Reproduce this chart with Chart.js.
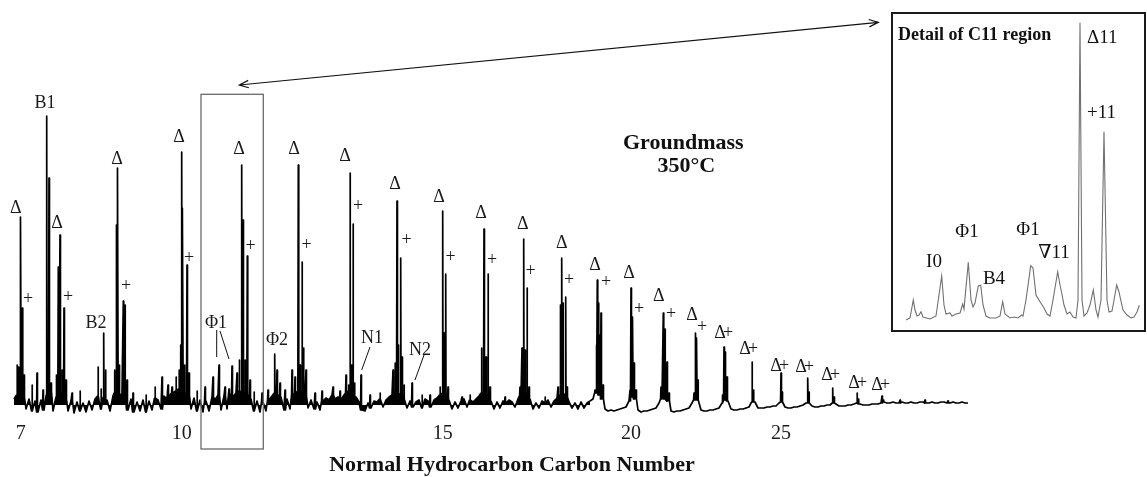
<!DOCTYPE html>
<html>
<head>
<meta charset="utf-8">
<style>
  html, body { margin: 0; padding: 0; background: #fff; }
  #wrap { position: relative; width: 1147px; height: 477px; overflow: hidden; }
  #main { position: absolute; left: 0; top: 0; }
  #insetBox { position: absolute; left: 891px; top: 12px; width: 255px; height: 320px;
              box-sizing: border-box; border: 2px solid #1a1a1a; background: #fff; }
  #inset { display: block; }
</style>
<script src="https://cdn.jsdelivr.net/npm/chart.js@4.4.0/dist/chart.umd.min.js"></script>
</head>
<body>
<div id="wrap">
  <canvas id="main" width="1147" height="477"></canvas>
  <div id="insetBox"><canvas id="inset" width="251" height="316"></canvas></div>
</div>
<script>
const SERIF = '"Liberation Serif", "Times New Roman", "DejaVu Serif", serif';

// carbon number ticks sit on the n-alkene peaks
const tickScans = [20.7, 181.7, 442.7, 631, 781];
const tickLabels = ['7', '10', '15', '20', '25'];

// baseline trace, one reading every 3 scans starting at scan 14
const noiseStart = 14;
const noiseStep = 3;
const noiseLevels = [
  6, 10, 12, 8, -4, 6, -6, 4, -7, 5, -5, 10, 14, -6, 8, 12, 10, 6, -6, 4, -8, 3, -6, 2, -7, 4, -5, 6, 9, -4, 8,
  5, -6, 9, 12, 10, 11, 9, -5, 6, -7, 3, -6, 5, -7, 4, -5, 7, 5, -4, 9, 6, 10, 12, 14, 16, 14, 12, 10, -4, 7,
  -6, 5, -7, 4, -6, 8, 5, 10, -5, 9, -4, 11, 8, 12, 14, 13, 12, 10, 6, -6, 4, -7, 3, -6, 5, 9, 12, 10, 8, -5, 6, -4,
  10, 12, 14, 12, 9, -3, 5, -4, 3, -5, 4, 7, 5, 10, 6, 8, 5, 10, 12, 14, 12, 8, 3, -5, -6, 2, -3, 4, 3, 6, -2, 5,
  8, 10, 14, 12, 10, 6, -3, 4, -2, 3, 5, -3, 6, 4, -2, 5, 7, 10, 12, 9, 5, -4, 3, -3, 4, 6, -2, 5, 3, 6, 9, 12,
  10, 8, 4, -4, 3, -3, 4, 2, 5, 3, -2, 6, 9, 12, 10, 6, -4, 2, -3, 4, 2, 5, -2, 4, 7, 10, 12, 8, 3, -3, 2, -4, 3,
  -3, 2, 4, 6, 12, 10,
  6, -4, -6, -5, -6, -5, -4, -3, -2, 4, 8, 6, -5, -7, -6, -6, -5, -4, -3, 2, 6, 6, 4, -6, -7, -6, -6, -5, -4, -3,
  2, 5, 5, -5, -6, -6, -5, -5, -4, -3, 2, 5, 4, -4, -5, -5, -4, -4, -3, -2, 3, 3, -3, -3,
  -3, -2, -2, -1, -1, 2, 3, -2, -3, -3, -2, -2, -1, 0, 2, 2, -1, -2, -2, -1, -1, 0, 0, 2, 1, -1, -1, -1, 0, 0, 1,
  2, 1, 0, 0, 0, 1, 1, 1, 2, 3, 2, 2, 3, 2, 2, 3, 2, 2, 3, 2, 2, 3, 3, 2, 2, 3, 2, 2, 3, 3, 2, 2, 3, 2, 2, 3, 2, 2
];
// the early, noisy part of the run is drawn filled down to the baseline
const filledUntilScan = 590;

// [scan, abundance] of the resolved peaks
const peaks = [
  [17, 40], [18.8, 38], [20.7, 188], [22.3, 97], [24, 30],
  [32, 20], [37, 32], [43, 15],
  [46.7, 289], [49, 227], [51, 22],
  [56.5, 30], [58.3, 138], [60, 170], [62, 35], [64, 97], [66, 25],
  [72, 12], [80, 14],
  [98, 38], [101, 16], [103.7, 72], [105.5, 35],
  [114.5, 35], [116.7, 180], [117.7, 237], [119.5, 40], [123.3, 104], [125, 100], [127, 25],
  [133, 12], [146, 10], [155, 18], [162, 28], [168, 20], [172, 18], [176, 28],
  [179, 35], [180.5, 60], [181.7, 253], [182.7, 197], [184.5, 40], [187, 140], [189, 32],
  [197, 14], [205, 18], [213, 28], [219, 40], [225, 18], [229, 16], [232, 39], [237, 32],
  [239.5, 45], [241.7, 240], [243, 185], [245, 45], [247.3, 149], [250, 25], [254, 13],
  [262, 12], [268, 15], [274.7, 51], [277, 35], [280, 22], [285, 15],
  [292, 35], [295, 28], [298.3, 240], [300, 40], [302, 143], [303.5, 57], [306, 35],
  [315, 12], [322, 14], [333, 18], [340, 14],
  [346, 30], [348.5, 20], [350, 232], [351.5, 40], [353, 181], [354.5, 22], [361, 30],
  [370, 10], [380, 12],
  [393, 35], [395, 42], [397, 204], [398.5, 60], [400.7, 147], [402, 48], [404, 20], [412, 22],
  [422, 10], [430, 10],
  [440, 18], [442.7, 194], [444, 72], [445.7, 131], [448, 18],
  [462, 8], [470, 10],
  [481.5, 57], [484, 176], [486, 48], [488, 131], [490, 18],
  [505, 8],
  [520, 18], [522, 57], [523.7, 166], [525, 55], [527, 117], [529, 18],
  [545, 8],
  [558, 18], [560.5, 100], [561.7, 147], [563, 102], [565.7, 108], [567, 18],
  [595, 15], [596.2, 60], [597.3, 125], [598.5, 102], [600, 70], [601, 92], [603, 20],
  [630, 15], [631, 117], [632.7, 88], [634, 42], [636, 15],
  [661, 18], [663.3, 92], [665, 76], [667, 43], [669, 12],
  [694, 12], [695.7, 72], [696.7, 67], [698, 25],
  [722.5, 10], [724, 58], [725.5, 53], [727, 28],
  [752, 43], [753.5, 15],
  [781, 32], [782.5, 13],
  [807.7, 27], [809, 13],
  [832.7, 17], [834, 8],
  [857, 12], [858.5, 6],
  [882, 9], [883.5, 5],
  [900, 5], [925, 5], [948, 4]
];

// peak identifications: [text, scan, abundance]
const peakLabels = [
  ['Δ', 15.7, 197], ['+', 28, 106], ['B1', 45, 302], ['Δ', 57, 182], ['+', 68, 108],
  ['B2', 96, 82], ['Δ', 117, 246], ['+', 126, 119], ['Δ', 179, 268], ['+', 189, 147],
  ['Φ1', 216, 82], ['Δ', 239, 256], ['+', 250.7, 159], ['Φ2', 277, 65],
  ['Δ', 294, 256], ['+', 306.7, 160], ['Δ', 345, 249], ['+', 358, 199], ['N1', 372, 67],
  ['Δ', 395, 221], ['+', 406.7, 165], ['N2', 420, 55], ['Δ', 439, 208], ['+', 450.7, 148],
  ['Δ', 481, 192], ['+', 492, 145], ['Δ', 522.7, 181], ['+', 530.7, 134],
  ['Δ', 561.7, 162], ['+', 569, 125], ['Δ', 595, 140], ['+', 606, 123],
  ['Δ', 629, 132], ['+', 639, 96], ['Δ', 658.7, 109], ['+', 671, 91],
  ['Δ', 692, 90], ['+', 702, 78],
  ['Δ', 720, 72], ['+', 728, 72], ['Δ', 745, 56], ['+', 753, 56],
  ['Δ', 776, 39], ['+', 784, 39], ['Δ', 801, 38], ['+', 809, 38],
  ['Δ', 827, 30], ['+', 835, 30], ['Δ', 854, 22], ['+', 862, 22],
  ['Δ', 877, 20], ['+', 885, 20]
];
const leaders = [[216.7, 75, 216.7, 48], [220, 74, 229, 46], [370, 58, 361.7, 35], [424, 50, 415, 25]];
const zoomBox = [201, 263.3, 310.7, -44];

// detail of the C11 region (time in local units, signal)
const insetTime = [13, 17, 20.3, 22, 24, 26, 28, 30, 37, 43, 48.7, 51, 53, 57, 59, 63, 67, 69.7, 71, 75.3,
  78, 80, 82, 85.3, 87.7, 90, 93, 97, 103, 107, 109.7, 112, 117, 121, 125, 128.7, 130, 133, 137.7, 140,
  143, 147, 151, 154, 157, 160, 164.7, 167, 168.7, 171, 174, 177, 180, 183, 185, 187, 189, 191, 194, 197,
  200.3, 203, 205, 208, 211, 214, 216, 219, 221, 223.7, 226, 227, 230, 234, 238, 241, 244, 246.3];
const insetSignal = [10, 12, 30, 20, 14, 15, 18.3, 13, 11, 14, 54, 25, 16, 17, 14, 16, 17, 26, 21, 67.7,
  30, 23, 27, 44, 44.7, 25, 14, 12, 12, 14, 28.3, 16, 12, 13, 12, 15, 14, 30, 64.3, 62,
  35, 28.3, 22, 16, 14, 30, 58.3, 45, 37, 25, 16, 18, 13, 12, 30, 307.3, 30, 14, 17, 25,
  40, 20, 13, 30, 198.3, 30, 18, 19, 30, 45, 38, 33.3, 20, 15, 12, 13, 18, 24.7];
const insetLabels = [['I0', 41, 68], ['Φ1', 74, 98], ['B4', 101, 51], ['Φ1', 135, 100], ['∇11', 161, 77]];

// build the trace: baseline readings plus a narrow spike for every peak
const trace = noiseLevels.map((v, i) => ({x: noiseStart + i * noiseStep, y: v}));
peaks.forEach(([s, h]) => {
  const k = Math.min(noiseLevels.length - 1, Math.max(0, Math.round((s - noiseStart) / noiseStep)));
  const base = noiseLevels[k];
  trace.push({x: s - 0.45, y: base}, {x: s, y: h}, {x: s + 0.45, y: base});
});
trace.sort((a, b) => a.x - b.x);
const cut = trace.findIndex(p => p.x >= filledUntilScan);
const earlyTrace = trace.slice(0, cut + 1);
const lateTrace = trace.slice(cut);

const annotate = {
  id: 'annotate',
  afterDraw(chart) {
    const {ctx, scales: {x, y}} = chart;
    ctx.save();
    // zoom box
    ctx.strokeStyle = '#6a6a6a';
    ctx.lineWidth = 1.3;
    const bx0 = x.getPixelForValue(zoomBox[0]), bx1 = x.getPixelForValue(zoomBox[1]);
    const by0 = y.getPixelForValue(zoomBox[2]), by1 = y.getPixelForValue(zoomBox[3]);
    ctx.strokeRect(bx0, by0, bx1 - bx0, by1 - by0);

    // double arrow to the inset
    const ax0 = x.getPixelForValue(239.3), ay0 = y.getPixelForValue(320);
    const ax1 = x.getPixelForValue(878.3), ay1 = y.getPixelForValue(382.7);
    ctx.strokeStyle = '#111';
    ctx.lineWidth = 1.2;
    ctx.beginPath();
    ctx.moveTo(ax0, ay0);
    ctx.lineTo(ax1, ay1);
    const ang = Math.atan2(ay1 - ay0, ax1 - ax0);
    [[ax1, ay1, ang + Math.PI], [ax0, ay0, ang]].forEach(([px, py, a]) => {
      ctx.moveTo(px + 10 * Math.cos(a + 0.38), py + 10 * Math.sin(a + 0.38));
      ctx.lineTo(px, py);
      ctx.lineTo(px + 10 * Math.cos(a - 0.38), py + 10 * Math.sin(a - 0.38));
    });
    ctx.stroke();

    // leader lines
    ctx.lineWidth = 1;
    ctx.beginPath();
    leaders.forEach(([x0, y0, x1, y1]) => {
      ctx.moveTo(x.getPixelForValue(x0), y.getPixelForValue(y0));
      ctx.lineTo(x.getPixelForValue(x1), y.getPixelForValue(y1));
    });
    ctx.stroke();

    // peak labels
    ctx.fillStyle = '#1a1a1a';
    ctx.textAlign = 'center';
    ctx.textBaseline = 'middle';
    ctx.font = '18px ' + SERIF;
    peakLabels.forEach(([t, s, v]) => ctx.fillText(t, x.getPixelForValue(s), y.getPixelForValue(v)));

    // sample title
    ctx.font = 'bold 22px ' + SERIF;
    ctx.fillStyle = '#111';
    ctx.fillText('Groundmass', x.getPixelForValue(683.3), y.getPixelForValue(262));
    ctx.fillText('350°C', x.getPixelForValue(686.3), y.getPixelForValue(238.5));
    ctx.restore();
  }
};

const traceStyle = {
  borderColor: '#000',
  backgroundColor: '#000',
  borderWidth: 1.7,
  borderJoinStyle: 'round',
  pointRadius: 0,
  tension: 0
};

new Chart(document.getElementById('main'), {
  type: 'line',
  data: {
    datasets: [
      {...traceStyle, data: earlyTrace, fill: 'origin'},
      {...traceStyle, data: lateTrace, fill: false}
    ]
  },
  options: {
    responsive: false,
    animation: false,
    layout: {padding: {left: 0, right: 123, top: 0, bottom: 0}},
    plugins: {legend: {display: false}, tooltip: {enabled: false}},
    scales: {
      x: {
        type: 'linear',
        min: 0,
        max: 1024,
        grid: {display: false, drawTicks: false},
        border: {display: false},
        afterBuildTicks: (scale) => { scale.ticks = tickScans.map(v => ({value: v})); },
        afterFit: (scale) => { scale.height = 62; },
        ticks: {
          autoSkip: false,
          maxRotation: 0,
          padding: 7,
          color: '#1a1a1a',
          font: {family: SERIF, size: 20},
          callback: (value, index) => tickLabels[index]
        },
        title: {
          display: true,
          text: 'Normal Hydrocarbon Carbon Number',
          color: '#111',
          padding: {top: 0, bottom: 1},
          font: {family: SERIF, size: 22, weight: 'bold', lineHeight: 1}
        }
      },
      y: {display: false, min: -10, max: 405}
    }
  },
  plugins: [annotate]
});

const insetText = {
  id: 'insetText',
  afterDraw(chart) {
    const {ctx, scales: {x, y}} = chart;
    ctx.save();
    ctx.fillStyle = '#111';
    ctx.textBaseline = 'middle';
    ctx.textAlign = 'left';
    ctx.font = 'bold 18px ' + SERIF;
    ctx.fillText('Detail of C11 region', x.getPixelForValue(5), y.getPixelForValue(295));
    ctx.font = '19px ' + SERIF;
    ctx.fillText('Δ11', x.getPixelForValue(194), y.getPixelForValue(292));
    ctx.fillText('+11', x.getPixelForValue(194), y.getPixelForValue(217));
    ctx.textAlign = 'center';
    insetLabels.forEach(([t, s, v]) => ctx.fillText(t, x.getPixelForValue(s), y.getPixelForValue(v)));
    ctx.restore();
  }
};

new Chart(document.getElementById('inset'), {
  type: 'line',
  data: {
    datasets: [{
      data: insetTime.map((t, i) => ({x: t, y: insetSignal[i]})),
      borderColor: '#707070',
      borderWidth: 1.1,
      pointRadius: 0,
      tension: 0,
      fill: false
    }]
  },
  options: {
    responsive: false,
    animation: false,
    layout: {padding: 0},
    plugins: {legend: {display: false}, tooltip: {enabled: false}},
    scales: {
      x: {type: 'linear', display: false, min: 0, max: 251},
      y: {display: false, min: 0, max: 316}
    }
  },
  plugins: [insetText]
});
</script>
</body>
</html>
